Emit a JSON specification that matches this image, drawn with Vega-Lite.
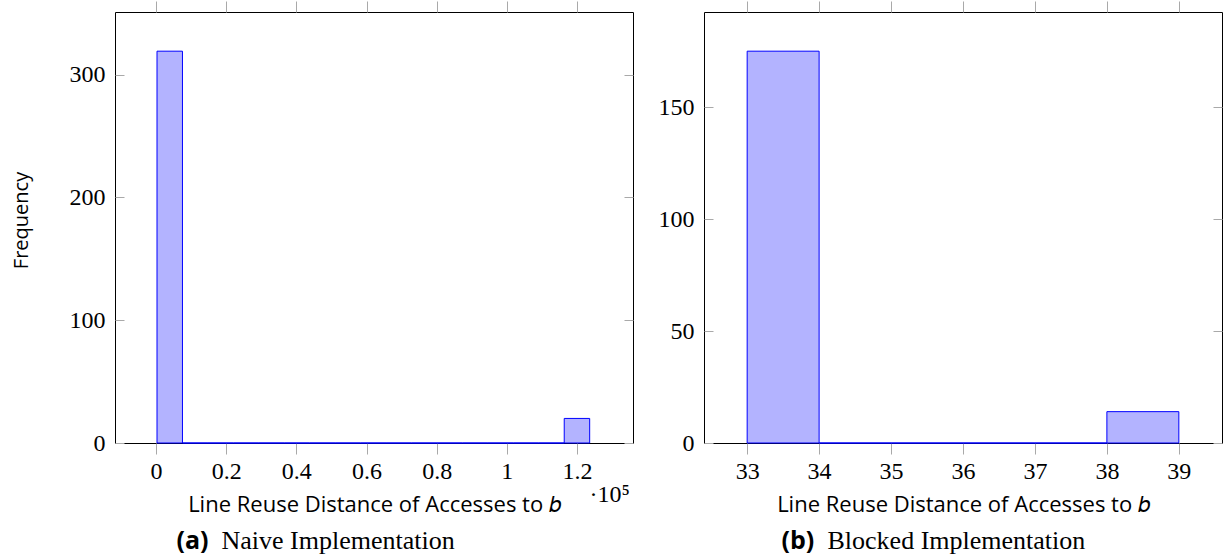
{
  "$schema": "https://vega.github.io/schema/vega-lite/v6.json",
  "background": "white",
  "padding": {"left": 10, "top": 0, "right": 0, "bottom": 0},
  "spacing": 23,
  "config": {
    "view": {"stroke": "black", "strokeWidth": 1},
    "axis": {
      "grid": false,
      "domain": false,
      "tickColor": "#a9a9a9",
      "tickWidth": 1,
      "labelFont": "Liberation Serif",
      "labelFontSize": 24,
      "labelColor": "black",
      "titleFont": "Open Sans",
      "titleFontSize": 22,
      "titleFontWeight": "normal",
      "titleColor": "black"
    }
  },
  "datasets": {
    "naive": [
      {"lo": 285, "hi": 7539, "count": 319},
      {"lo": 7539, "hi": 14794, "count": 0},
      {"lo": 14794, "hi": 22048, "count": 0},
      {"lo": 22048, "hi": 29303, "count": 0},
      {"lo": 29303, "hi": 36557, "count": 0},
      {"lo": 36557, "hi": 43811, "count": 0},
      {"lo": 43811, "hi": 51066, "count": 0},
      {"lo": 51066, "hi": 58320, "count": 0},
      {"lo": 58320, "hi": 65575, "count": 0},
      {"lo": 65575, "hi": 72829, "count": 0},
      {"lo": 72829, "hi": 80084, "count": 0},
      {"lo": 80084, "hi": 87338, "count": 0},
      {"lo": 87338, "hi": 94593, "count": 0},
      {"lo": 94593, "hi": 101847, "count": 0},
      {"lo": 101847, "hi": 109101, "count": 0},
      {"lo": 109101, "hi": 116356, "count": 0},
      {"lo": 116356, "hi": 123610, "count": 20}
    ],
    "blocked": [
      {"lo": 33, "hi": 34, "count": 175},
      {"lo": 34, "hi": 35, "count": 0},
      {"lo": 35, "hi": 36, "count": 0},
      {"lo": 36, "hi": 37, "count": 0},
      {"lo": 37, "hi": 38, "count": 0},
      {"lo": 38, "hi": 39, "count": 14}
    ]
  },
  "hconcat": [
    {
      "width": 518,
      "height": 431,
      "data": {"name": "naive"},
      "resolve": {"axis": {"x": "independent", "y": "independent"}},
      "layer": [
        {
          "mark": {"type": "bar", "fill": "#b3b3ff", "stroke": "#0000ff", "strokeWidth": 1},
          "encoding": {
            "x": {
              "field": "lo", "type": "quantitative",
              "scale": {"domain": [-11690, 135960], "nice": false, "zero": false},
              "axis": {
                "orient": "bottom",
                "values": [0, 20000, 40000, 60000, 80000, 100000, 120000],
                "labelExpr": "format(datum.value / 100000, '~g')",
                "tickSize": 11,
                "labelPadding": 5,
                "title": "Line Reuse Distance of Accesses to 𝑏",
                "titlePadding": 11
              }
            },
            "x2": {"field": "hi"},
            "y": {
              "field": "count", "type": "quantitative",
              "scale": {"domain": [0, 350.9], "nice": false},
              "axis": {
                "orient": "left",
                "values": [0, 100, 200, 300],
                "tickSize": -9,
                "labelPadding": 19,
                "title": "Frequency",
                "titleFontSize": 20,
                "titleAngle": 270,
                "titleX": -84,
                "titleY": 208,
                "titleAlign": "center",
                "titleBaseline": "bottom"
              }
            },
            "y2": {"datum": 0}
          }
        },
        {
          "mark": {"type": "bar", "opacity": 0},
          "encoding": {
            "x": {
              "field": "lo", "type": "quantitative",
              "scale": {"domain": [-11690, 135960], "nice": false, "zero": false},
              "axis": {
                "orient": "top",
                "values": [0, 20000, 40000, 60000, 80000, 100000, 120000],
                "tickSize": 11,
                "labels": false,
                "title": "(a)",
                "titleFont": "Open Sans",
                "titleFontWeight": "bold",
                "titleFontSize": 25,
                "titleX": 61,
                "titleY": 536,
                "titleAlign": "left",
                "titleBaseline": "alphabetic"
              }
            },
            "x2": {"field": "hi"},
            "y": {
              "field": "count", "type": "quantitative",
              "scale": {"domain": [0, 350.9], "nice": false},
              "axis": {
                "orient": "right",
                "values": [0, 100, 200, 300],
                "tickSize": -9,
                "labels": false,
                "title": "Naive Implementation",
                "titleFont": "Liberation Serif",
                "titleFontSize": 26,
                "titleAngle": 0,
                "titleX": -412,
                "titleY": 536,
                "titleAlign": "left",
                "titleBaseline": "alphabetic"
              }
            },
            "y2": {"datum": 0}
          }
        },
        {
          "mark": {"type": "bar", "opacity": 0},
          "encoding": {
            "x": {
              "field": "lo", "type": "quantitative",
              "scale": {"domain": [-11690, 135960], "nice": false, "zero": false},
              "axis": {
                "orient": "bottom",
                "ticks": false,
                "labels": false,
                "title": "·10⁵",
                "titleFont": "Liberation Serif",
                "titleFontSize": 24,
                "titleX": 474,
                "titleY": 58,
                "titleAlign": "left",
                "titleBaseline": "alphabetic"
              }
            },
            "x2": {"field": "hi"},
            "y": {"field": "count", "type": "quantitative", "axis": null},
            "y2": {"datum": 0}
          }
        }
      ]
    },
    {
      "width": 518,
      "height": 431,
      "data": {"name": "blocked"},
      "resolve": {"axis": {"x": "independent", "y": "independent"}},
      "layer": [
        {
          "mark": {"type": "bar", "fill": "#b3b3ff", "stroke": "#0000ff", "strokeWidth": 1},
          "encoding": {
            "x": {
              "field": "lo", "type": "quantitative",
              "scale": {"domain": [32.4, 39.6], "nice": false, "zero": false},
              "axis": {
                "orient": "bottom",
                "values": [33, 34, 35, 36, 37, 38, 39],
                "tickSize": 11,
                "labelPadding": 5,
                "title": "Line Reuse Distance of Accesses to 𝑏",
                "titlePadding": 11
              }
            },
            "x2": {"field": "hi"},
            "y": {
              "field": "count", "type": "quantitative",
              "scale": {"domain": [0, 192.5], "nice": false},
              "axis": {
                "orient": "left",
                "values": [0, 50, 100, 150],
                "tickSize": -9,
                "labelPadding": 19,
                "title": null
              }
            },
            "y2": {"datum": 0}
          }
        },
        {
          "mark": {"type": "bar", "opacity": 0},
          "encoding": {
            "x": {
              "field": "lo", "type": "quantitative",
              "scale": {"domain": [32.4, 39.6], "nice": false, "zero": false},
              "axis": {
                "orient": "top",
                "values": [33, 34, 35, 36, 37, 38, 39],
                "tickSize": 11,
                "labels": false,
                "title": "(b)",
                "titleFont": "Open Sans",
                "titleFontWeight": "bold",
                "titleFontSize": 25,
                "titleX": 77,
                "titleY": 536,
                "titleAlign": "left",
                "titleBaseline": "alphabetic"
              }
            },
            "x2": {"field": "hi"},
            "y": {
              "field": "count", "type": "quantitative",
              "scale": {"domain": [0, 192.5], "nice": false},
              "axis": {
                "orient": "right",
                "values": [0, 50, 100, 150],
                "tickSize": -9,
                "labels": false,
                "title": "Blocked Implementation",
                "titleFont": "Liberation Serif",
                "titleFontSize": 26,
                "titleAngle": 0,
                "titleX": -395,
                "titleY": 536,
                "titleAlign": "left",
                "titleBaseline": "alphabetic"
              }
            },
            "y2": {"datum": 0}
          }
        }
      ]
    }
  ]
}
